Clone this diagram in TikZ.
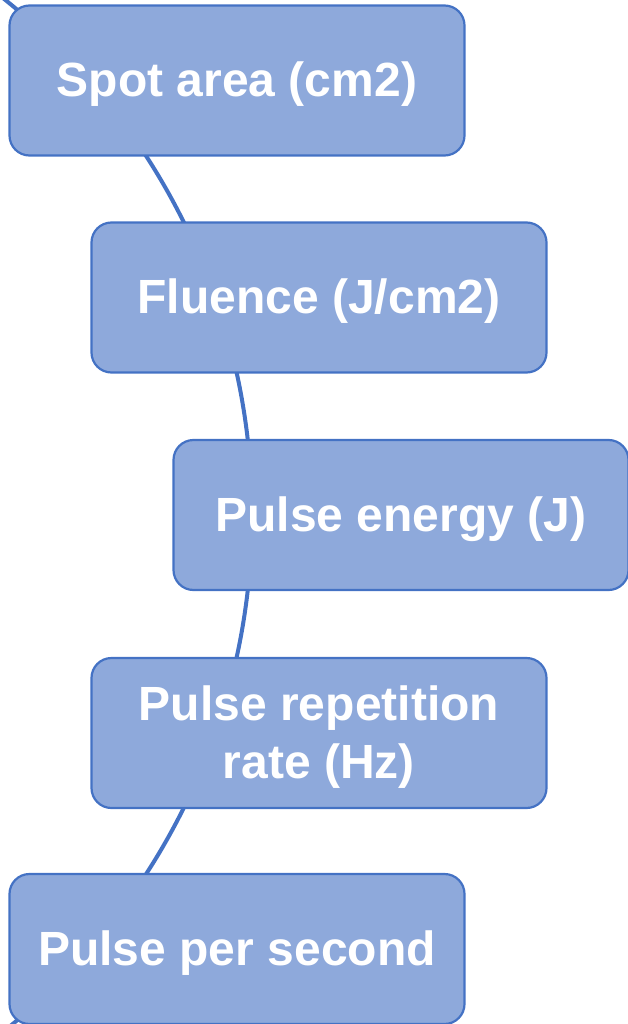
\documentclass[tikz,border=0pt]{standalone}
\usepackage{fontspec}
\setmainfont{Liberation Sans}
\definecolor{boxfill}{HTML}{8EA9DB}
\definecolor{boxline}{HTML}{4472C4}
\begin{document}
\begin{tikzpicture}[x=1pt,y=-1pt,
  item/.style={draw=boxline, line width=2.2pt, fill=boxfill, rounded corners=20pt,
    minimum width=455pt, minimum height=150pt, inner sep=0pt},
  txt/.style={text=white, align=center, inner sep=0pt, yshift=-4pt,
    font=\fontsize{48}{58}\selectfont\bfseries},
  arcline/.style={draw=boxline, line width=4pt}]
\useasboundingbox (0,0) rectangle (628,1024);
\begin{scope}
\clip (0,0) rectangle (628,1024);
\coordinate (c) at (-409,515);
\draw[arcline] (c) circle[radius=661];
\node[item, label={[txt]center:Spot area (cm2)}] (a) at (237,80.5) {};
\node[item, label={[txt]center:Fluence (J/cm2)}] (b) at (319,297.5) {};
\node[item, label={[txt]center:Pulse energy (J)}] (d) at (401,515) {};
\node[item, label={[txt]center:Pulse repetition\\rate (Hz)}] (e) at (319,733) {};
\node[item, label={[txt]center:Pulse per second}] (f) at (237,949) {};
\end{scope}
\end{tikzpicture}
\end{document}
